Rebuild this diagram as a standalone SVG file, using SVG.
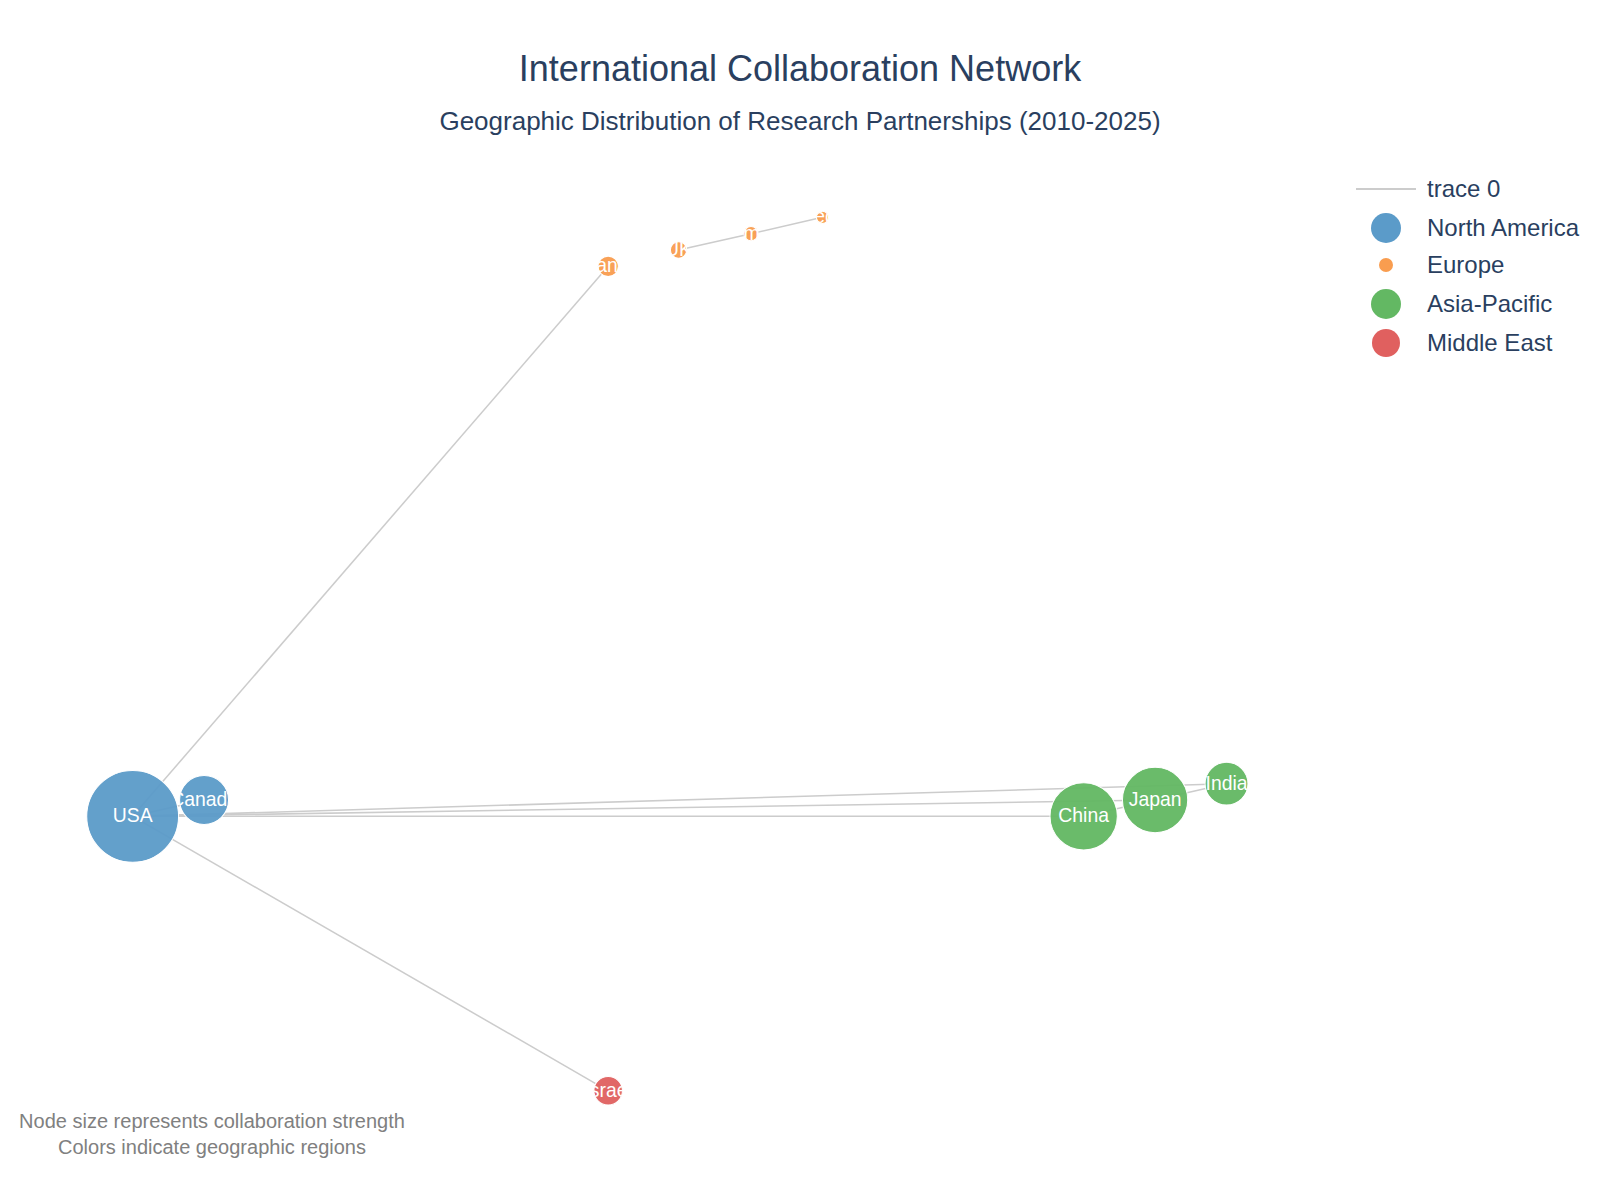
<svg xmlns="http://www.w3.org/2000/svg" width="1600" height="1200" viewBox="0 0 1600 1200">
<style>
text{font-family:"Liberation Sans",Arial,sans-serif}
.e{stroke:#cccccc;stroke-width:1.5;fill:none}
.na{fill:#5b9bc9}.eu{fill:#f99d4f}.ap{fill:#63b863}.me{fill:#e0605f}
.n circle{stroke:#fff;stroke-width:1;opacity:.95}
.lbl{fill:#fff;font-size:19px;text-anchor:middle}
.leg{fill:#2a3f5f;font-size:24px}
</style>
<defs>
<clipPath id="cCan"><circle cx="200" cy="784" r="24"/></clipPath>
<clipPath id="cFr"><circle cx="596" cy="261" r="10"/></clipPath>
<clipPath id="cUK"><circle cx="665" cy="245" r="8"/></clipPath>
<clipPath id="cDe"><circle cx="736" cy="229" r="7"/></clipPath>
<clipPath id="cSw"><circle cx="806" cy="213" r="6"/></clipPath>
<clipPath id="cIs"><circle cx="596" cy="1069" r="14"/></clipPath>
<clipPath id="cIn"><circle cx="1202" cy="768" r="21"/></clipPath>
</defs>
<rect width="1600" height="1200" fill="#fff"/>
<text x="800" y="81" text-anchor="middle" font-size="36" fill="#2a3f5f">International Collaboration Network</text>
<text x="800" y="130" text-anchor="middle" font-size="26" fill="#2a3f5f">Geographic Distribution of Research Partnerships (2010-2025)</text>
<g transform="scale(1.0204)">
<g id="connectors">
<line class="e" x1="130" y1="800" x2="596" y2="261"/>
<line class="e" x1="130" y1="800" x2="596" y2="1069"/>
<line class="e" x1="130" y1="800" x2="200" y2="784"/>
<line class="e" x1="130" y1="800" x2="1062" y2="800"/>
<line class="e" x1="130" y1="800" x2="1132" y2="784"/>
<line class="e" x1="130" y1="800" x2="1202" y2="768"/>
<line class="e" x1="1062" y1="800" x2="1202" y2="768"/>
<line class="e" x1="665" y1="245" x2="736" y2="229"/>
<line class="e" x1="736" y1="229" x2="806" y2="213"/>
</g>
<g id="node-usa" class="n"><circle class="na" cx="130" cy="800" r="45"/><text class="lbl" x="130" y="806">USA</text></g>
<g id="node-canada" class="n"><circle class="na" cx="200" cy="784" r="24"/><text class="lbl" x="200" y="790" clip-path="url(#cCan)">Canada</text></g>
<g id="node-france" class="n"><circle class="eu" cx="596" cy="261" r="10"/><text class="lbl" x="596" y="267" clip-path="url(#cFr)">France</text></g>
<g id="node-uk" class="n"><circle class="eu" cx="665" cy="245" r="8"/><text class="lbl" x="665" y="251" clip-path="url(#cUK)">UK</text></g>
<g id="node-germany" class="n"><circle class="eu" cx="736" cy="229" r="7"/><text class="lbl" x="736" y="235" clip-path="url(#cDe)">Germany</text></g>
<g id="node-sweden" class="n"><circle class="eu" cx="806" cy="213" r="6"/><text class="lbl" x="806" y="219" clip-path="url(#cSw)">Sweden</text></g>
<g id="node-china" class="n"><circle class="ap" cx="1062" cy="800" r="33"/><text class="lbl" x="1062" y="806">China</text></g>
<g id="node-japan" class="n"><circle class="ap" cx="1132" cy="784" r="32"/><text class="lbl" x="1132" y="790">Japan</text></g>
<g id="node-india" class="n"><circle class="ap" cx="1202" cy="768" r="21"/><text class="lbl" x="1202" y="774" clip-path="url(#cIn)">India</text></g>
<g id="node-israel" class="n"><circle class="me" cx="596" cy="1069" r="14"/><text class="lbl" x="596" y="1075" clip-path="url(#cIs)">Israel</text></g>
</g>
<g id="legend">
<line x1="1356" y1="189" x2="1416" y2="189" stroke="#cccccc" stroke-width="2"/>
<text class="leg" x="1427" y="197">trace 0</text>
<circle class="na" cx="1386" cy="228" r="15"/><text class="leg" x="1427" y="236">North America</text>
<circle class="eu" cx="1386" cy="265" r="7"/><text class="leg" x="1427" y="273">Europe</text>
<circle class="ap" cx="1386" cy="304" r="15"/><text class="leg" x="1427" y="312">Asia-Pacific</text>
<circle class="me" cx="1386" cy="343" r="14"/><text class="leg" x="1427" y="351">Middle East</text>
</g>
<text x="212" y="1128" text-anchor="middle" font-size="20" fill="#808080">Node size represents collaboration strength</text>
<text x="212" y="1154" text-anchor="middle" font-size="20" fill="#808080">Colors indicate geographic regions</text>
</svg>
